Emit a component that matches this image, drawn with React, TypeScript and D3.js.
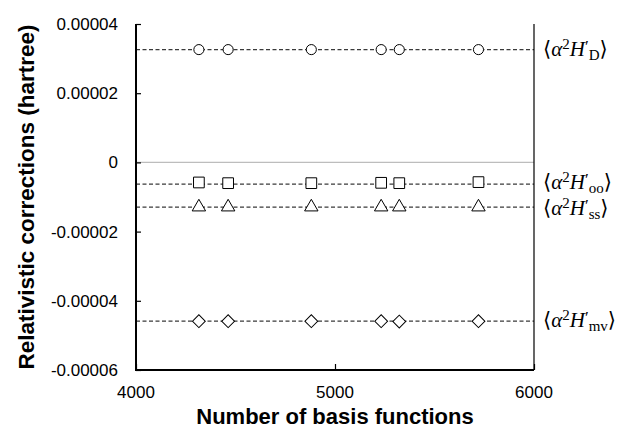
import React, { useRef, useEffect } from "react";
import * as d3 from "d3";

// basis set sizes (x) and the four relativistic correction terms (hartree)
const basisFunctions = [4316, 4463, 4881, 5232, 5323, 5721];
const darwinValues = [3.26e-5, 3.26e-5, 3.26e-5, 3.26e-5, 3.26e-5, 3.26e-5];
const orbitOrbitValues = [-5.8e-6, -6.0e-6, -6.0e-6, -5.9e-6, -6.0e-6, -5.7e-6];
const spinSpinValues = [-1.29e-5, -1.29e-5, -1.29e-5, -1.29e-5, -1.29e-5, -1.29e-5];
const massVelocityValues = [-4.59e-5, -4.59e-5, -4.59e-5, -4.59e-5, -4.6e-5, -4.59e-5];
// converged reference values drawn as dashed lines
const referenceValues = [3.26e-5, -6.3e-6, -1.29e-5, -4.59e-5];
const seriesSubscripts = ["D", "oo", "ss", "mv"];
const markerShapes = ["circle", "square", "triangle", "diamond"];
const labelOffsets = [0, -1, 2, 0];

const xTicks = [4000, 5000, 6000];
const yTicks = [0.00004, 0.00002, 0, -0.00002, -0.00004, -0.00006];
const yTickLabels = ["0.00004", "0.00002", "0", "-0.00002", "-0.00004", "-0.00006"];

const W = 625;
const H = 433;
const margin = { left: 136, right: 91, top: 24, bottom: 63 };

const App = () => {
  const svgRef = useRef(null);

  useEffect(() => {
    draw();
  }, []);

  const draw = () => {
    const svg = d3.select(svgRef.current);
    svgRef.current.querySelectorAll("*").forEach((n) => n.remove());

    const innerW = W - margin.left - margin.right;
    const innerH = H - margin.top - margin.bottom;

    const xScale = d3.scaleLinear().domain([4000, 6000]).range([margin.left, margin.left + innerW]);
    const yScale = d3.scaleLinear().domain([-0.00006, 0.00004]).range([margin.top + innerH, margin.top]);

    const x0 = xScale(4000);
    const x1 = xScale(6000);
    const yTop = yScale(0.00004);
    const yBot = yScale(-0.00006);

    // zero line
    svg.append("line")
      .attr("x1", x0).attr("x2", x1)
      .attr("y1", yScale(0)).attr("y2", yScale(0))
      .attr("stroke", "#bdbdbd").attr("stroke-width", 1.2);

    // dashed reference lines
    svg.selectAll(".refLine")
      .data(referenceValues)
      .join("line")
      .attr("class", "refLine")
      .attr("x1", x0).attr("x2", x1)
      .attr("y1", (d) => yScale(d)).attr("y2", (d) => yScale(d))
      .attr("stroke", "#3a3a3a")
      .attr("stroke-width", 1.2)
      .attr("stroke-dasharray", "4,2.5");

    // axes: left + bottom + right border, ticks inside
    const yAxis = d3.axisLeft(yScale).tickValues(yTicks).tickSize(-5).tickFormat(() => "");
    const yAxisG = svg.append("g").attr("transform", `translate(${x0},0)`).call(yAxis);
    yAxisG.select(".domain").remove();
    yAxisG.selectAll("line").attr("stroke", "#000").attr("stroke-width", 1.2);

    const xAxis = d3.axisBottom(xScale).tickValues(xTicks).tickSize(-6).tickFormat(() => "");
    const xAxisG = svg.append("g").attr("transform", `translate(0,${yBot})`).call(xAxis);
    xAxisG.select(".domain").remove();
    xAxisG.selectAll("line").attr("stroke", "#000").attr("stroke-width", 1.2);

    svg.append("path")
      .attr("d", `M${x0},${yTop}V${yBot}H${x1}`)
      .attr("fill", "none").attr("stroke", "#000").attr("stroke-width", 2);
    svg.append("line")
      .attr("x1", x1).attr("x2", x1).attr("y1", yTop).attr("y2", yBot)
      .attr("stroke", "#000").attr("stroke-width", 1.2);

    // tick labels
    svg.selectAll(".yLab")
      .data(yTicks)
      .join("text")
      .attr("class", "yLab")
      .attr("x", x0 - 18)
      .attr("y", (d) => yScale(d) + 6)
      .attr("text-anchor", "end")
      .attr("font-family", "Liberation Sans, Arial, sans-serif")
      .attr("font-size", 17)
      .attr("fill", "#000")
      .text((_, i) => yTickLabels[i]);

    svg.selectAll(".xLab")
      .data(xTicks)
      .join("text")
      .attr("class", "xLab")
      .attr("x", (d) => xScale(d))
      .attr("y", yBot + 28)
      .attr("text-anchor", "middle")
      .attr("font-family", "Liberation Sans, Arial, sans-serif")
      .attr("font-size", 17)
      .attr("fill", "#000")
      .text((d) => d);

    // axis titles
    svg.append("text")
      .attr("x", (x0 + x1) / 2)
      .attr("y", 424)
      .attr("text-anchor", "middle")
      .attr("font-family", "Liberation Sans, Arial, sans-serif")
      .attr("font-weight", "bold")
      .attr("font-size", 22)
      .text("Number of basis functions");

    svg.append("text")
      .attr("transform", `translate(34,${(yTop + yBot) / 2}) rotate(-90)`)
      .attr("text-anchor", "middle")
      .attr("font-family", "Liberation Sans, Arial, sans-serif")
      .attr("font-weight", "bold")
      .attr("font-size", 22.5)
      .text("Relativistic corrections (hartree)");

    // markers
    const series = [darwinValues, orbitOrbitValues, spinSpinValues, massVelocityValues];
    const symbolFor = {
      circle: d3.symbol().type(d3.symbolCircle).size(80),
      square: d3.symbol().type(d3.symbolSquare).size(115),
      triangle: d3.symbol().type(d3.symbolTriangle).size(78),
      diamond: d3.symbol().type(d3.symbolSquare).size(82),
    };
    series.forEach((vals, si) => {
      const pts = vals.map((v, i) => [basisFunctions[i], v]);
      const rot = markerShapes[si] === "diamond" ? " rotate(45)" : "";
      svg.append("g")
        .selectAll("path")
        .data(pts)
        .join("path")
        .attr("d", symbolFor[markerShapes[si]])
        .attr("transform", (d) => `translate(${xScale(d[0])},${yScale(d[1])})${rot}`)
        .attr("fill", "#fff")
        .attr("stroke", "#000")
        .attr("stroke-width", 1);
    });

    // right side math labels
    referenceValues.forEach((v, i) => {
      const t = svg.append("text")
        .attr("x", x1 + 9)
        .attr("y", yScale(v) + 6 + labelOffsets[i])
        .attr("font-family", "Liberation Serif, DejaVu Serif, serif")
        .attr("font-size", 21)
        .attr("fill", "#000");
      t.append("tspan").text("\u27E8");
      t.append("tspan").attr("font-style", "italic").text("\u03B1");
      t.append("tspan").attr("font-size", 15).attr("dy", -7).text("2");
      t.append("tspan").attr("font-style", "italic").attr("dy", 7).text("H");
      t.append("tspan").attr("font-size", 17).attr("dy", -4).text("\u2032");
      t.append("tspan").attr("font-size", 15).attr("dy", 8).text(seriesSubscripts[i]);
      t.append("tspan").attr("dy", -4).text("\u27E9");
    });
  };

  return (
    <div>
      <svg
        ref={svgRef}
        width={W}
        height={H}
        style={{ position: "absolute", left: 0, top: 0, background: "#fff" }}
      />
    </div>
  );
};

export default App;
